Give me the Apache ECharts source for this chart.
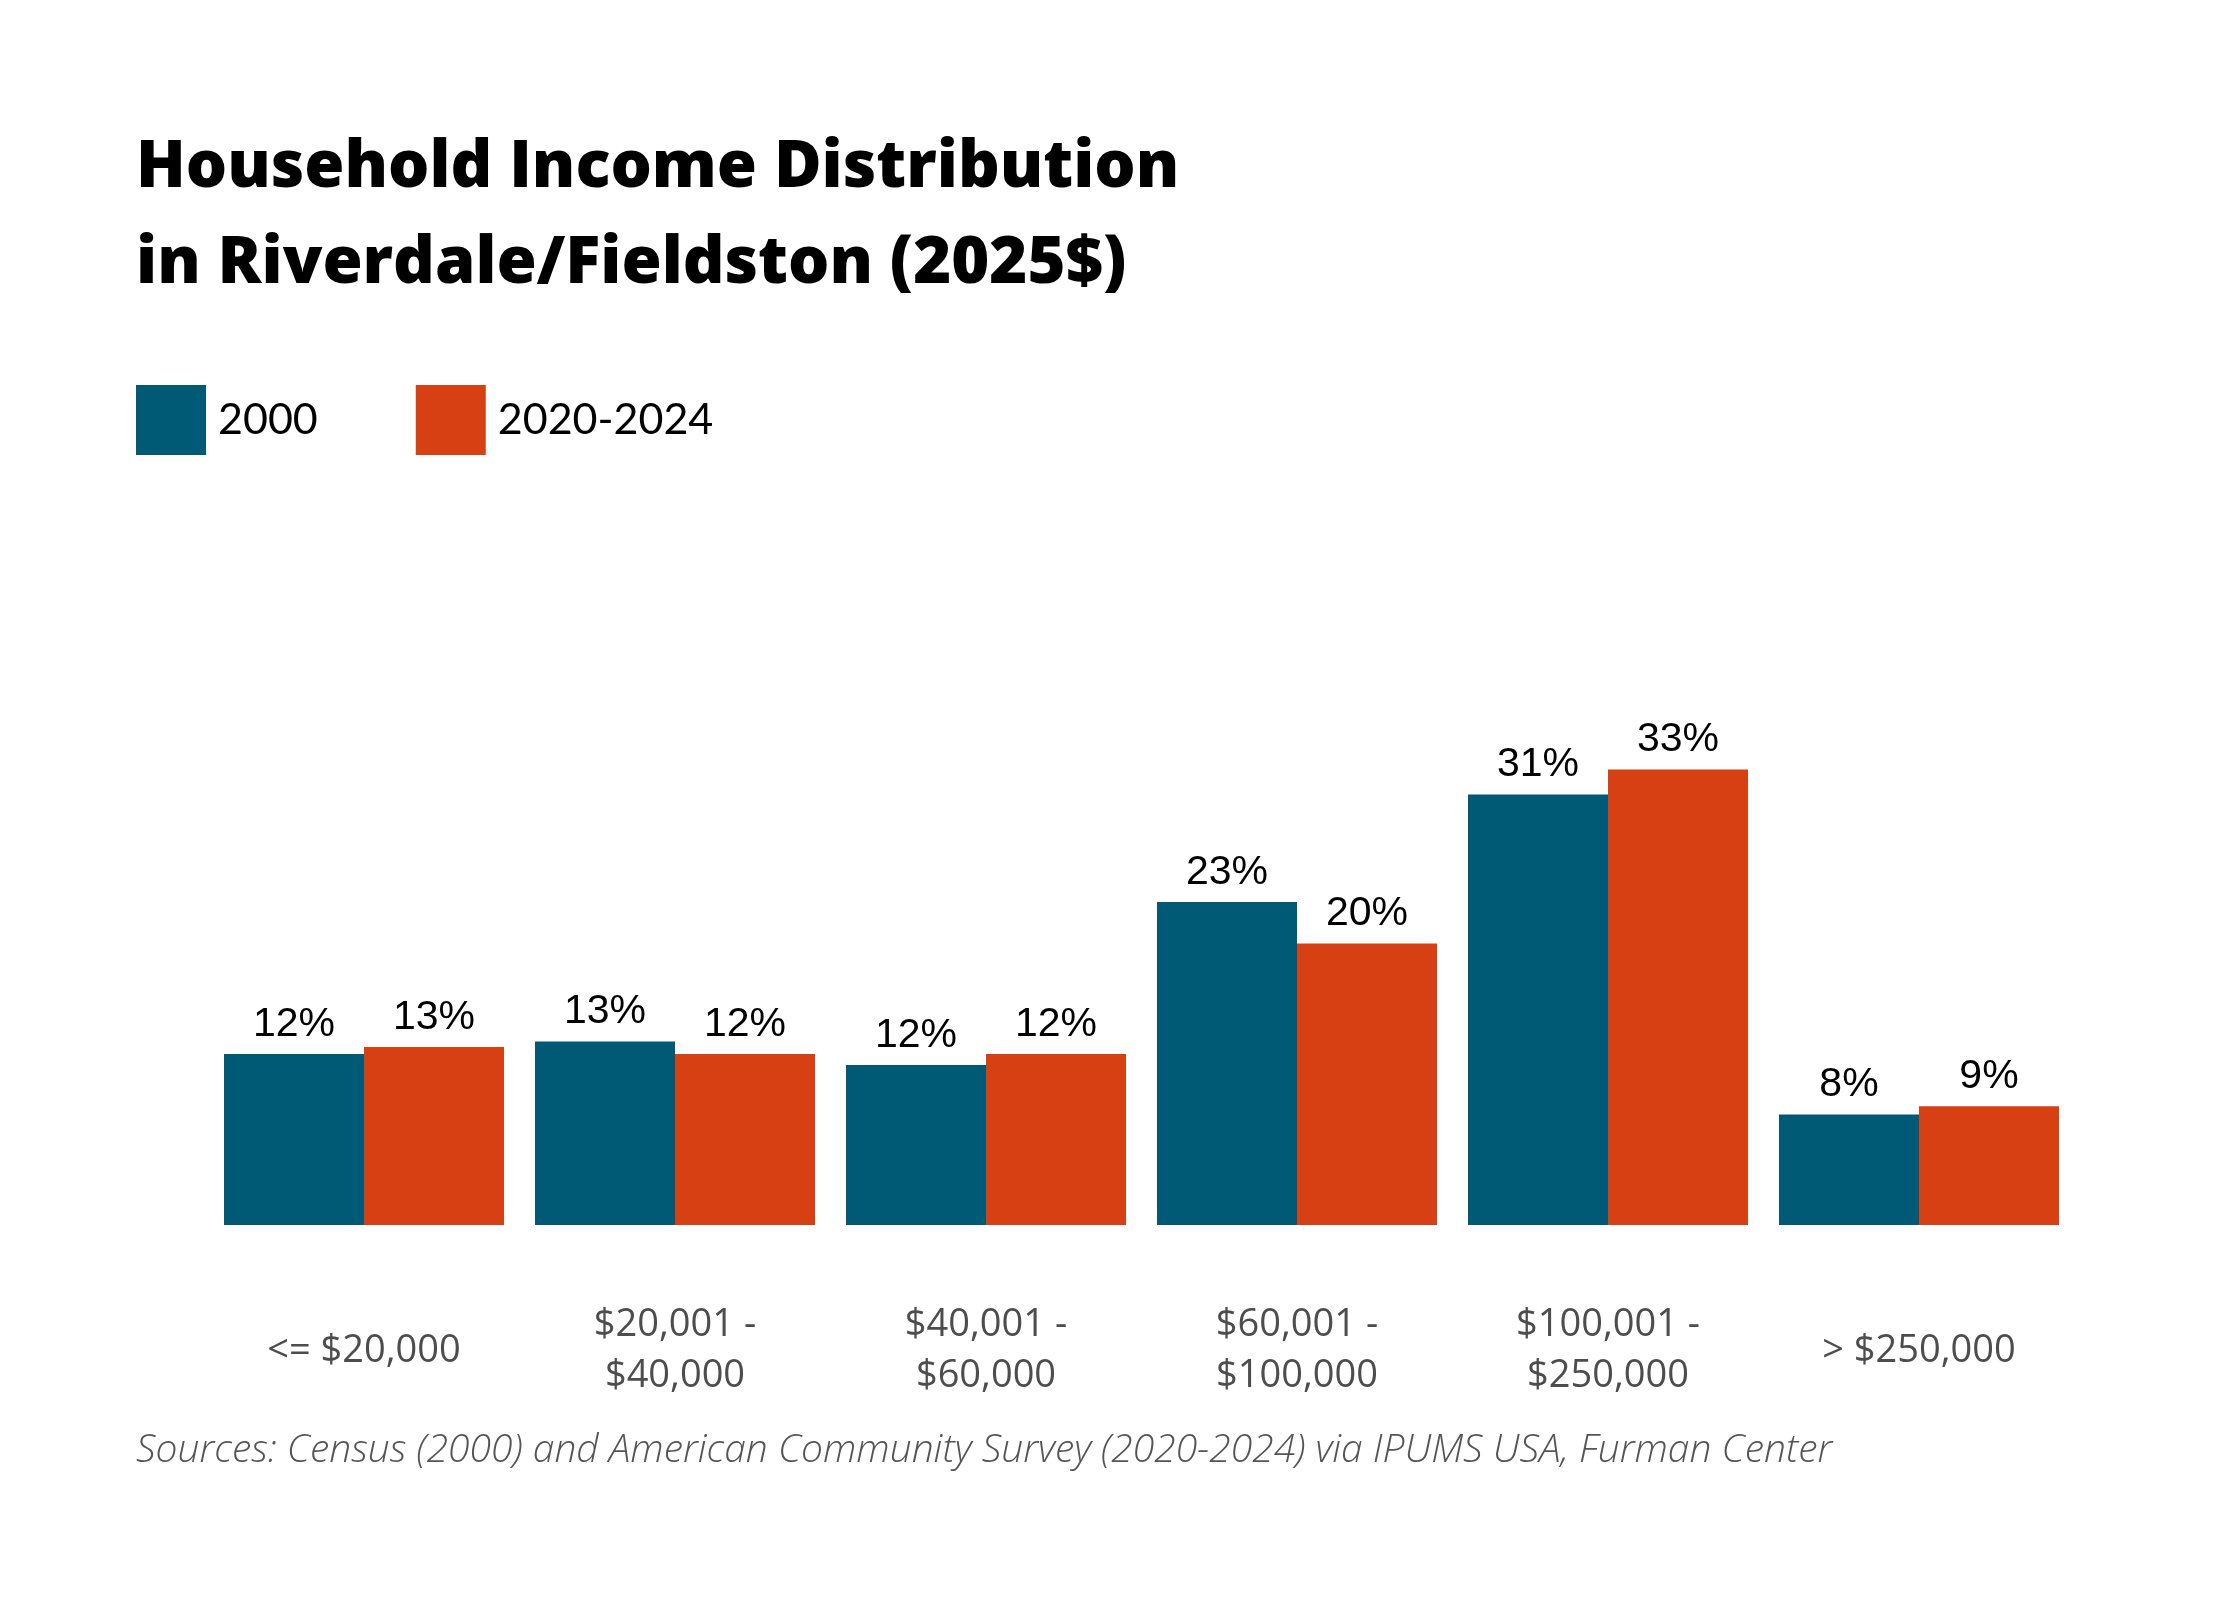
<!doctype html>
<html>

<head>
    <meta charset="utf-8">
    <title>Household Income Distribution</title>
    <script src="https://cdn.jsdelivr.net/npm/echarts@6/dist/echarts.min.js"></script>
    <style>
        html, body {
            margin: 0;
            padding: 0;
            background: #fff;
        }

        #container {
            width: 2240px;
            height: 1600px;
        }
    </style>
</head>

<body>
    <div id="container"></div>

    <script type="text/javascript">
        // income brackets (x axis)
        var categories = ['<= $20,000', '$20,001 -\n$40,000', '$40,001 -\n$60,000', '$60,001 -\n$100,000', '$100,001 -\n$250,000', '> $250,000'];
        // share of households, percent
        var share2000 = [12.4, 13.3, 11.6, 23.4, 31.2, 8.0];
        var share2020 = [12.9, 12.4, 12.4, 20.4, 33.0, 8.6];
        var seriesNames = ['2000', '2020-2024'];

        var blue = '#005a75';
        var orange = '#d74012';

        function barSeries(name, data, color) {
            return {
                name: name,
                type: 'bar',
                data: data,
                barWidth: 140,
                barGap: '0%',
                itemStyle: { color: color },
                label: {
                    show: true,
                    position: 'top',
                    distance: 9,
                    color: '#000',
                    fontSize: 41,
                    fontFamily: 'Liberation Sans',
                    formatter: function (p) {
                        return Math.round(p.value) + '%';
                    }
                }
            };
        }

        var option = {
            backgroundColor: '#fff',
            animation: false,
            title: [{
                text: 'Household Income Distribution\nin Riverdale/Fieldston (2025$)',
                left: 136,
                top: 120,
                padding: 0,
                textStyle: {
                    fontFamily: 'Open Sans',
                    fontWeight: 800,
                    fontSize: 65,
                    lineHeight: 96,
                    color: '#000'
                }
            }, {
                text: 'Sources: Census (2000) and American Community Survey (2020-2024) via IPUMS USA, Furman Center',
                left: 136,
                top: 1431,
                padding: 0,
                textStyle: {
                    fontFamily: 'Open Sans',
                    fontStyle: 'italic',
                    fontWeight: 300,
                    fontSize: 39,
                    color: '#555'
                }
            }],
            legend: {
                data: seriesNames,
                left: 136,
                top: 385,
                padding: 0,
                itemWidth: 70,
                itemHeight: 70,
                itemGap: 98,
                icon: 'rect',
                textStyle: {
                    fontFamily: 'Lato',
                    fontSize: 43,
                    color: '#000',
                    padding: [0, 0, 0, 7]
                }
            },
            grid: {
                left: 208.5,
                right: 165.5,
                top: 673,
                bottom: 375,
                containLabel: false
            },
            xAxis: {
                type: 'category',
                data: categories,
                axisLine: { show: false },
                axisTick: { show: false },
                axisLabel: {
                    interval: 0,
                    margin: 126,
                    verticalAlign: 'middle',
                    color: '#4d4d4d',
                    fontFamily: 'Open Sans',
                    fontSize: 38,
                    lineHeight: 51
                }
            },
            yAxis: {
                type: 'value',
                min: 0,
                max: 40,
                show: false,
                splitLine: { show: false }
            },
            series: [
                barSeries(seriesNames[0], share2000, blue),
                barSeries(seriesNames[1], share2020, orange)
            ]
        };

        var myChart = echarts.init(document.getElementById('container'));
        myChart.setOption(option);
    </script>
</body>

</html>
